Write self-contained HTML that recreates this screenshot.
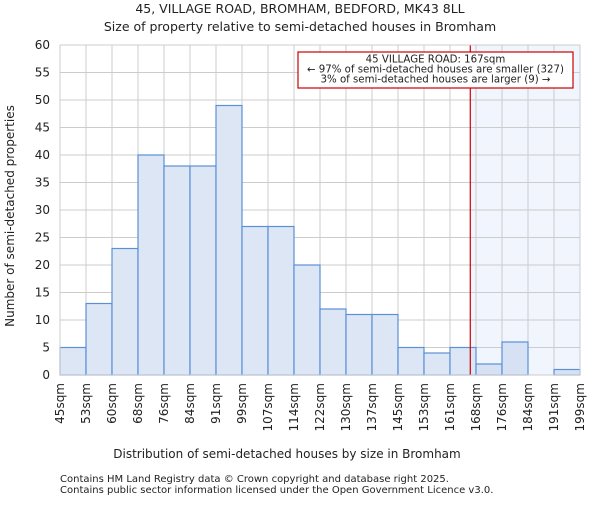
<!DOCTYPE html>
<html><head><meta charset="utf-8"><style>body{margin:0;background:#fff}svg text{font-family:"DejaVu Sans","Liberation Sans",sans-serif;fill:#222}</style></head>
<body>
<svg id="c" width="600" height="500" xmlns="http://www.w3.org/2000/svg">
<text x="300" y="13" font-size="12.5" text-anchor="middle">45, VILLAGE ROAD, BROMHAM, BEDFORD, MK43 8LL</text>
<text x="300" y="31" font-size="12.5" text-anchor="middle">Size of property relative to semi-detached houses in Bromham</text>
<g id="plot"></g>
<text x="287" y="458" font-size="12" text-anchor="middle">Distribution of semi-detached houses by size in Bromham</text>
<text transform="translate(14,216) rotate(-90)" font-size="12" text-anchor="middle">Number of semi-detached properties</text>
<text x="60" y="482" font-size="10">Contains HM Land Registry data © Crown copyright and database right 2025.</text>
<text x="60" y="493" font-size="10">Contains public sector information licensed under the Open Government Licence v3.0.</text>
</svg>
<script>
const categories=["45sqm","53sqm","60sqm","68sqm","76sqm","84sqm","91sqm","99sqm","107sqm","114sqm","122sqm","130sqm","137sqm","145sqm","153sqm","161sqm","168sqm","176sqm","184sqm","191sqm","199sqm"];
const counts=[5,13,23,40,38,38,49,27,27,20,12,11,11,5,4,5,2,6,0,1];
const yTicks=[0,5,10,15,20,25,30,35,40,45,50,55,60];
const markerBin=15.78;
const X0=60,X1=580,Y0=375,Y1=45,YMAX=60;
const bw=(X1-X0)/counts.length;
const xs=i=>X0+i*bw, ys=v=>Y0-(v/YMAX)*(Y0-Y1);
const NS="http://www.w3.org/2000/svg",g=document.getElementById('plot');
function mk(t,a){const e=document.createElementNS(NS,t);for(const k in a)e.setAttribute(k,a[k]);g.appendChild(e);return e;}
const mx=xs(markerBin);
let e=mk('rect',{x:mx,y:Y1,width:X1-mx,height:Y0-Y1,fill:'#eef3fc',opacity:0.8});


yTicks.forEach(t=>{let l=mk('line',{x1:X0,x2:X1,y1:ys(t),y2:ys(t),stroke:'#cccccc'});


let tx=mk('text',{x:X0-10,y:ys(t)+4,'font-size':12,'text-anchor':'end'});tx.textContent=t;

});
categories.forEach((c,i)=>{let l=mk('line',{x1:xs(i),x2:xs(i),y1:Y1,y2:Y0,stroke:'#cccccc'});


let tx=mk('text',{transform:`translate(${xs(i)+4},${Y0+8}) rotate(-90)`,'font-size':12,'text-anchor':'end'});tx.textContent=c;

});
counts.forEach((v,i)=>{if(v<=0)return;let r=mk('rect',{x:xs(i),y:ys(v),width:bw,height:Y0-ys(v),fill:i>=16?'#d6e2f3':'#dce6f4',stroke:'#5b8fd6','stroke-width':1.2});

});
e=mk('line',{x1:mx,x2:mx,y1:Y1,y2:Y0,stroke:'#cc0000','stroke-width':1.2});


e=mk('rect',{x:298,y:52,width:275,height:36,fill:'#fff',stroke:'#cc0000','stroke-width':1.2});


["45 VILLAGE ROAD: 167sqm","← 97% of semi-detached houses are smaller (327)","3% of semi-detached houses are larger (9) →"].forEach((s,k)=>{let t=mk('text',{x:435.5,y:62.5+k*10,'font-size':10.2,'text-anchor':'middle'});t.textContent=s;

});
e=mk('rect',{x:X0,y:Y1,width:X1-X0,height:Y0-Y1,fill:'none',stroke:'#cccccc'});


</script>
</body></html>
